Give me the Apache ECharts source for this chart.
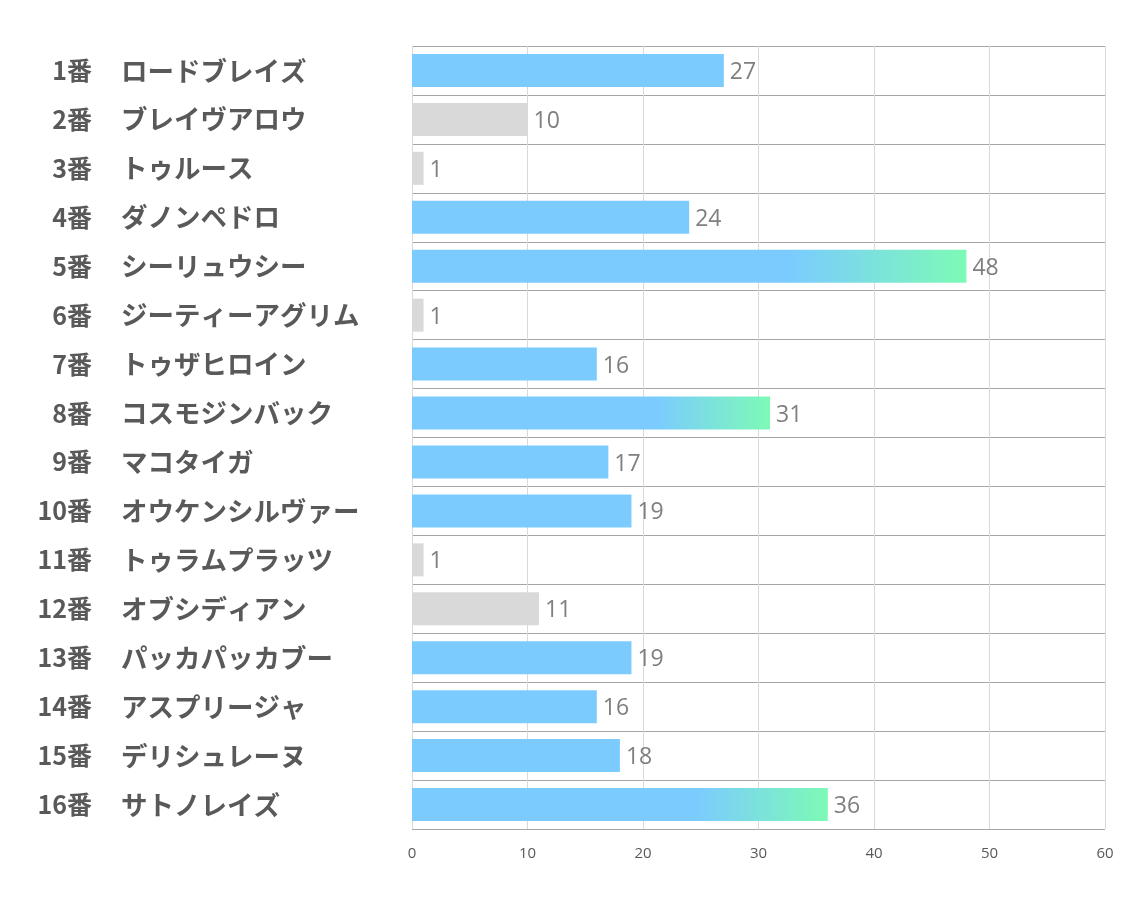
<!DOCTYPE html>
<html>
<head>
<meta charset="utf-8">
<script src="https://cdn.jsdelivr.net/npm/echarts@6/dist/echarts.min.js"></script>
<style>
html,body{margin:0;padding:0;background:#fff;}
#chart{width:1134px;height:907px;}
</style>
</head>
<body>
<div id="chart"></div>
<script>
const numbers = ['1番','2番','3番','4番','5番','6番','7番','8番','9番','10番','11番','12番','13番','14番','15番','16番'];
const horses = ['ロードブレイズ','ブレイヴアロウ','トゥルース','ダノンペドロ','シーリュウシー','ジーティーアグリム','トゥザヒロイン','コスモジンバック','マコタイガ','オウケンシルヴァー','トゥラムプラッツ','オブシディアン','パッカパッカブー','アスプリージャ','デリシュレーヌ','サトノレイズ'];
const values = [27,10,1,24,48,1,16,31,17,19,1,11,19,16,18,36];
const xTicks = [0,10,20,30,40,50,60];

const sorted = values.slice().sort((a,b)=>a-b);
const lowCut = sorted[4];             // lowest five -> gray
const highCut = sorted[sorted.length-3]; // top three -> gradient

const BLUE = '#7BCBFF', GREEN = '#7DFAB6', GRAY = '#D9D9D9';
const barData = values.map(v=>{
  let color = BLUE;
  if (v <= lowCut) color = GRAY;
  else if (v >= highCut) color = new echarts.graphic.LinearGradient(0,0,1,0,[
    {offset:0,color:BLUE},{offset:0.68,color:BLUE},{offset:1,color:GREEN}]);
  return {value:v,itemStyle:{color:color}};
});

const fontFam = '"Noto Sans CJK JP",sans-serif';

const chart = echarts.init(document.getElementById('chart'));
chart.setOption({
  animation:false,
  backgroundColor:'#fff',
  grid:{left:412,right:29,top:46,bottom:78,containLabel:false},
  xAxis:{
    type:'value',min:xTicks[0],max:xTicks[xTicks.length-1],interval:10,
    axisLine:{show:false},axisTick:{show:false},
    splitLine:{show:true,lineStyle:{color:'#D9D9D9',width:1}},
    axisLabel:{color:'#595959',fontSize:15,margin:17,fontFamily:'"Open Sans","Noto Sans",sans-serif'}
  },
  yAxis:[{
    type:'category',inverse:true,data:numbers,position:'left',
    axisLine:{show:false},axisTick:{show:false},
    splitLine:{show:true,lineStyle:{color:'#A6A6A6',width:1}},
    axisLabel:{align:'right',margin:320,fontSize:25,fontWeight:'bold',color:'#595959',fontFamily:fontFam}
  },{
    type:'category',inverse:true,data:horses,position:'left',offset:0,
    axisLine:{show:false},axisTick:{show:false},splitLine:{show:false},
    axisLabel:{align:'left',margin:291,fontSize:26.5,fontWeight:'bold',color:'#595959',fontFamily:fontFam}
  }],
  series:[{
    type:'bar',data:barData,barWidth:33,yAxisIndex:0,
    label:{show:true,position:'right',distance:6,offset:[0,2],color:'#7F7F7F',fontSize:23,fontFamily:'"Open Sans","Noto Sans",sans-serif'}
  }]
});
</script>
</body>
</html>
